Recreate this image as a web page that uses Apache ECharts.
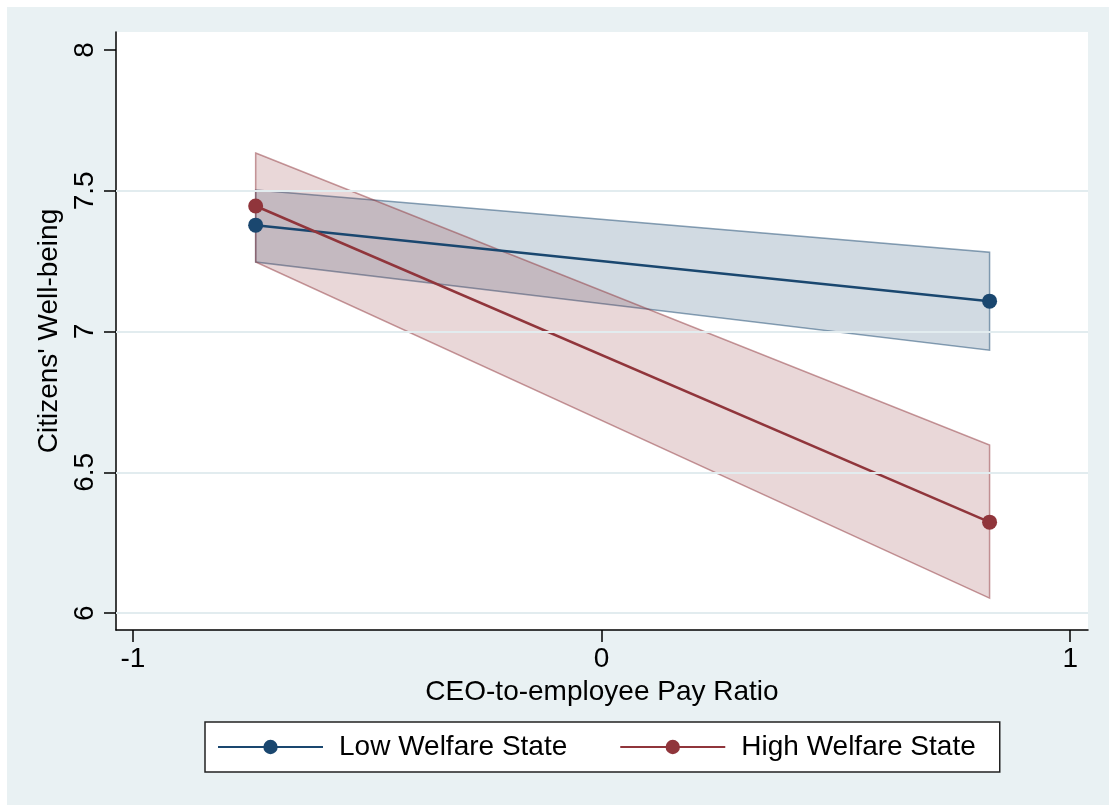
<!DOCTYPE html>
<html>
<head>
<meta charset="utf-8">
<script src="https://cdn.jsdelivr.net/npm/echarts@6/dist/echarts.min.js"></script>
<style>
  html, body { margin: 0; padding: 0; background: #ffffff; }
  #frame { position: absolute; left: 7px; top: 7px; width: 1102px; height: 798px; background: #E9F1F3; }
  #chart { position: absolute; left: 0; top: 0; width: 1109px; height: 805px; }
</style>
</head>
<body>
<div id="frame"></div>
<div id="chart"></div>
<script>
// Predicted well-being at low / high CEO-to-employee pay ratio
const payRatio = [-0.738, 0.828];

const lowFit = [7.378, 7.108];
const lowLower = [7.247, 6.934];
const lowUpper = [7.503, 7.282];

const highFit = [7.446, 6.323];
const highLower = [7.247, 6.053];
const highUpper = [7.634, 6.597];

const yTicks = [6, 6.5, 7, 7.5, 8];
const yGrid = [6, 6.5, 7, 7.5];
const xTicks = [-1, 0, 1];

const NAVY = '#1A476F';
const MAROON = '#90353B';
const FONT = "'Liberation Sans', Arial, Helvetica, sans-serif";
const FS = 28;

// Confidence band drawn as one polygon through the axis scales
function bandRenderer(lower, upper, fill, stroke) {
  return function (params, api) {
    if (params.dataIndex !== 0) return null;
    const pts = [];
    for (let i = 0; i < payRatio.length; i++) pts.push(api.coord([payRatio[i], upper[i]]));
    for (let i = payRatio.length - 1; i >= 0; i--) pts.push(api.coord([payRatio[i], lower[i]]));
    return {
      type: 'polygon',
      shape: { points: pts },
      style: { fill: fill, stroke: stroke, lineWidth: 1.5 }
    };
  };
}

const chart = echarts.init(document.getElementById('chart'));
chart.setOption({
  animation: false,
  backgroundColor: 'transparent',
  textStyle: { fontFamily: FONT },
  grid: {
    left: 116, top: 32, right: 21, bottom: 175,
    show: true, backgroundColor: '#ffffff', borderWidth: 0
  },
  xAxis: {
    type: 'value',
    min: -1.036, max: 1.038,
    name: 'CEO-to-employee Pay Ratio',
    nameLocation: 'middle',
    nameGap: 48,
    nameTextStyle: { fontFamily: FONT, fontSize: FS, color: '#000' },
    axisLine: { show: true, onZero: false, lineStyle: { color: '#000', width: 1.5 } },
    axisTick: { show: true, length: 12, customValues: xTicks, lineStyle: { color: '#000', width: 1.5 } },
    axisLabel: { customValues: xTicks, margin: 15, fontFamily: FONT, fontSize: FS, color: '#000',
      formatter: v => String(v) },
    splitLine: { show: false }
  },
  yAxis: {
    type: 'value',
    min: 5.94, max: 8.064,
    name: "Citizens' Well-being",
    nameLocation: 'middle',
    nameRotate: 90,
    nameGap: 45,
    nameTextStyle: { fontFamily: FONT, fontSize: FS, color: '#000' },
    axisLine: { show: true, onZero: false, lineStyle: { color: '#000', width: 1.5 } },
    axisTick: { show: true, length: 12, customValues: yTicks, lineStyle: { color: '#000', width: 1.5 } },
    axisLabel: { customValues: yTicks, rotate: 90, margin: 17, fontFamily: FONT, fontSize: FS, color: '#000',
      formatter: v => String(v) },
    splitLine: { show: false }
  },
  legend: {
    data: ['Low Welfare State', 'High Welfare State'],
    left: 205, top: 722,
    orient: 'horizontal',
    padding: [10, 24, 10, 12],
    itemGap: 52,
    itemWidth: 105,
    itemHeight: 18,
    backgroundColor: '#ffffff',
    borderColor: '#222',
    borderWidth: 1.5,
    borderRadius: 0,
    textStyle: { fontFamily: FONT, fontSize: FS, color: '#000', lineHeight: 30, padding: [0, 0, 0, 11] }
  },
  series: [
    {
      name: 'grid',
      type: 'line',
      data: [],
      z: 0,
      silent: true,
      markLine: {
        silent: true,
        symbol: 'none',
        label: { show: false },
        lineStyle: { color: '#E2ECEF', width: 2, type: 'solid' },
        data: yGrid.map(v => ({ yAxis: v }))
      }
    },
    {
      name: 'low-ci',
      type: 'custom',
      z: 1,
      silent: true,
      renderItem: bandRenderer(lowLower, lowUpper, 'rgba(26,71,111,0.2)', 'rgba(26,71,111,0.5)'),
      data: payRatio.map((x, i) => [x, lowLower[i], lowUpper[i]]),
      encode: { x: 0, y: [1, 2] }
    },
    {
      name: 'high-ci',
      type: 'custom',
      z: 2,
      silent: true,
      renderItem: bandRenderer(highLower, highUpper, 'rgba(144,53,59,0.2)', 'rgba(144,53,59,0.5)'),
      data: payRatio.map((x, i) => [x, highLower[i], highUpper[i]]),
      encode: { x: 0, y: [1, 2] }
    },
    {
      name: 'Low Welfare State',
      type: 'line',
      z: 3,
      data: payRatio.map((x, i) => [x, lowFit[i]]),
      symbol: 'circle',
      symbolSize: 15,
      showSymbol: true,
      lineStyle: { color: NAVY, width: 2.5 },
      itemStyle: { color: NAVY }
    },
    {
      name: 'High Welfare State',
      type: 'line',
      z: 4,
      data: payRatio.map((x, i) => [x, highFit[i]]),
      symbol: 'circle',
      symbolSize: 15,
      showSymbol: true,
      lineStyle: { color: MAROON, width: 2.5 },
      itemStyle: { color: MAROON }
    }
  ]
});
</script>
</body>
</html>
